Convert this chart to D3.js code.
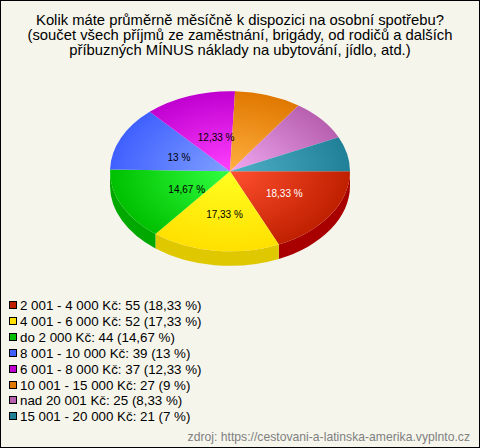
<!DOCTYPE html>
<html><head><meta charset="utf-8">
<script src="https://cdn.jsdelivr.net/npm/d3@7/dist/d3.min.js"></script>
<style>html,body{margin:0;padding:0;background:#f5f5ec}svg{display:block}text{font-family:"Liberation Sans",Arial,sans-serif}</style>
</head><body><div id="c"></div>
<script>
const categories=["2 001 - 4 000 Kč","4 001 - 6 000 Kč","do 2 000 Kč","8 001 - 10 000 Kč","6 001 - 8 000 Kč","10 001 - 15 000 Kč","nad 20 001 Kč","15 001 - 20 000 Kč"];
const counts=[55,52,44,39,37,27,25,21];
const percents=["18,33","17,33","14,67","13","12,33","9","8,33","7"];
const showLabel=[true,true,true,true,true,false,false,false];
const labelColors=["#fff","#000","#000","#000","#000","#000","#000","#000"];
const rimColors=["#c02000","#ffe000","#00c000","#4060ff","#c000d0","#e07800","#b860b0","#208098"];
const centerColors=["#ff5030","#ffff20","#30ff40","#80a0ff","#ff40ff","#ffb040","#f0a8f0","#50b0c8"];
const wallColors=["#a80000","#e0c800","#00a800","#3048c0","#9000a0","#a85800","#884888","#186078"];
const titleLines=["Kolik máte průměrně měsíčně k dispozici na osobní spotřebu?","(součet všech příjmů ze zaměstnání, brigády, od rodičů a dalších","příbuzných MÍNUS náklady na ubytování, jídlo, atd.)"];
const source="zdroj: https://cestovani-a-latinska-amerika.vyplnto.cz";

const W=480,H=448,cx=230,cy=171.3,rx=120,ry=80,depth=14.5;
const labelNudgeX=[4,2,11,3.5,6.5,0,0,0],labelNudgeY=[0,4,1,2.5,3.5,0,0,0];
const svg=d3.select("#c").append("svg").attr("width",W).attr("height",H);
svg.append("rect").attr("x",.5).attr("y",.5).attr("width",W-1).attr("height",H-1).attr("fill","#f5f5ec").attr("stroke","#000");

svg.selectAll(".t").data(titleLines).join("text").attr("x",240).attr("y",(d,i)=>25+i*15)
  .attr("text-anchor","middle").attr("font-size",14.8).attr("fill","#000").text(d=>d);

const slices=d3.pie().sort(null).startAngle(Math.PI/2).endAngle(Math.PI/2+2*Math.PI)(counts);
const defs=svg.append("defs");
slices.forEach((d,i)=>{
  const g=defs.append("radialGradient").attr("id","g"+i).attr("gradientUnits","userSpaceOnUse")
    .attr("cx",0).attr("cy",0).attr("r",rx);
  g.append("stop").attr("offset",0).attr("stop-color",centerColors[i]);
  g.append("stop").attr("offset",1).attr("stop-color",rimColors[i]);
});
const pt=a=>[cx+rx*Math.sin(a),cy-ry*Math.cos(a)];
slices.forEach((d,i)=>{
  const lo=Math.max(d.startAngle,Math.PI/2),hi=Math.min(d.endAngle,3*Math.PI/2);
  if(hi<=lo)return;
  const [x0,y0]=pt(lo),[x1,y1]=pt(hi);
  svg.append("path").attr("fill",wallColors[i]).attr("d",
    `M${x0},${y0}A${rx},${ry} 0 0 1 ${x1},${y1}L${x1},${y1+depth}A${rx},${ry} 0 0 0 ${x0},${y0+depth}Z`);
});
const arc=d3.arc().innerRadius(0).outerRadius(rx);
const topFace=svg.append("g").attr("transform",`translate(${cx},${cy}) scale(1,${ry/rx})`);
topFace.selectAll("path").data(slices).join("path").attr("d",arc).attr("fill",(d,i)=>`url(#g${i})`);

const lab=d3.arc().innerRadius(rx*.5).outerRadius(rx*.5);
slices.forEach((d,i)=>{
  if(!showLabel[i])return;
  const [x,y]=lab.centroid(d);
  svg.append("text").attr("x",cx+x+labelNudgeX[i]).attr("y",cy+y*ry/rx+labelNudgeY[i]+3.5).attr("text-anchor","middle")
    .attr("font-size",10).attr("fill",labelColors[i]).text(percents[i]+" %");
});

const ly=d3.scaleLinear().domain([0,1]).range([305,320.9]);
categories.forEach((c,i)=>{
  svg.append("rect").attr("x",9.5).attr("y",Math.round(ly(i))-3.5).attr("width",7).attr("height",7).attr("fill",rimColors[i]).attr("stroke","#000");
  svg.append("text").attr("x",20).attr("y",Math.round(ly(i))+5).attr("font-size",13.33).attr("fill","#000")
    .text(`${c}: ${counts[i]} (${percents[i]} %)`);
});
svg.append("text").attr("x",470).attr("y",441).attr("text-anchor","end").attr("font-size",12.2).attr("fill","#808080").text(source);
</script></body></html>
